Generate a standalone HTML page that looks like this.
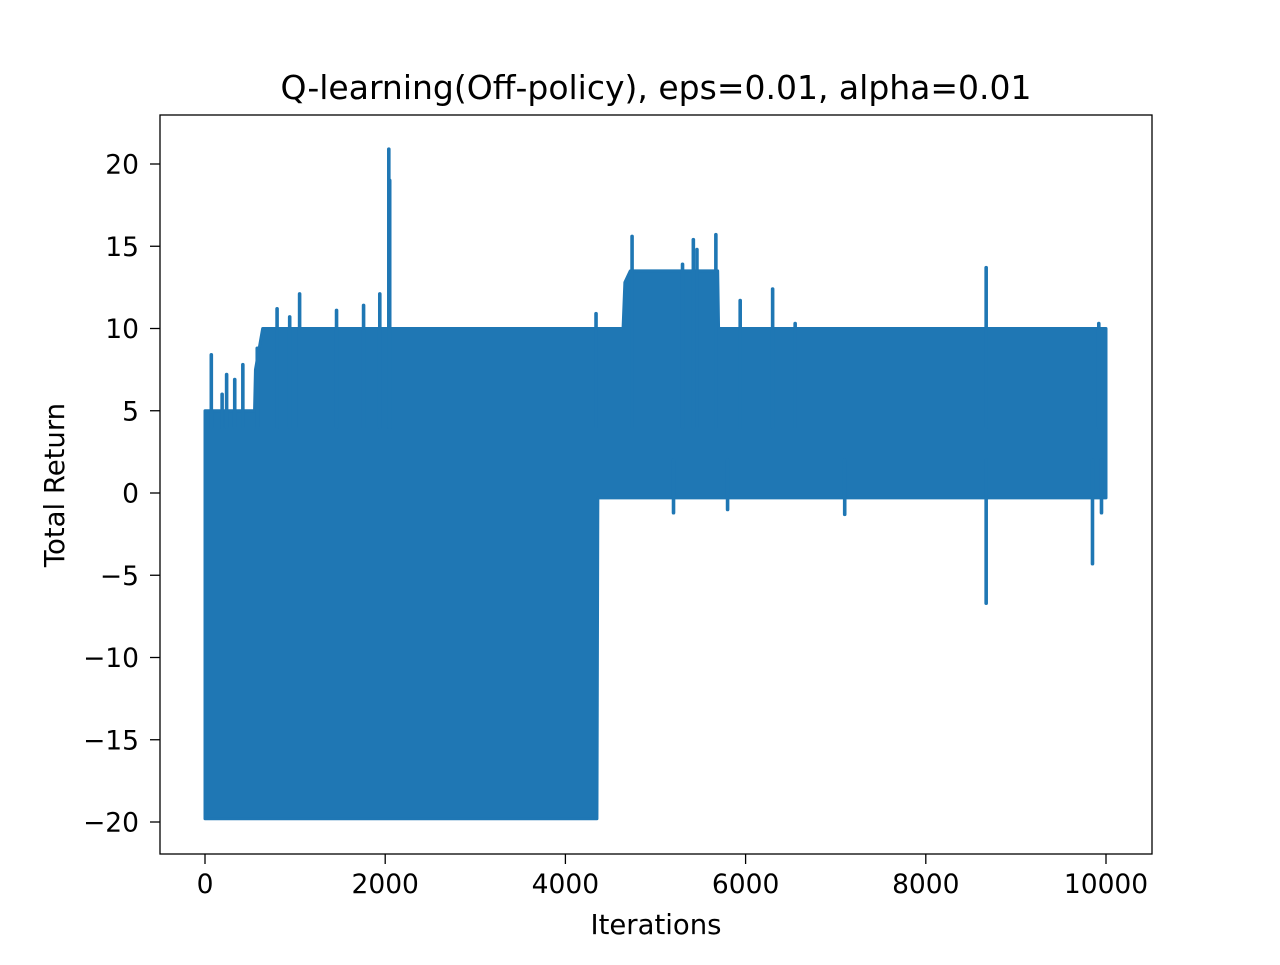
<!DOCTYPE html>
<html><head><meta charset="utf-8"><style>
html,body{margin:0;padding:0;background:#fff}
svg text{font-family:"DejaVu Sans","Liberation Sans",sans-serif;fill:#000}
</style></head><body>
<svg id="chart" width="1280" height="960" xmlns="http://www.w3.org/2000/svg">
<rect width="1280" height="960" fill="#fff"/>
<text x="656" y="99" font-size="33" text-anchor="middle">Q-learning(Off-policy), eps=0.01, alpha=0.01</text>
<g id="marks"></g>
<rect x="160" y="115" width="992" height="739" fill="none" stroke="#000" stroke-width="1.3"/>
<g id="axes"></g>
<text x="656" y="934" font-size="27.5" text-anchor="middle">Iterations</text>
<text transform="translate(64,485) rotate(-90)" font-size="27.5" text-anchor="middle">Total Return</text>
</svg>
<script>
const topIter=[0,550,560,640,4640,4660,4720,5690,5700,10000];
const topVal=[5,5,7.5,10,10,12.8,13.5,13.5,10,10];
const botIter=[0,4350,4360,10000];
const botVal=[-19.8,-19.8,-0.3,-0.3];
const upIter=[70,190,240,330,420,580,800,940,1050,1460,1760,1940,2040,2050,4340,4740,5300,5420,5460,5670,5940,6300,6550,8670,9920];
const upVal=[8.4,6,7.2,6.9,7.8,8.8,11.2,10.7,12.1,11.1,11.4,12.1,20.9,19,10.9,15.6,13.9,15.4,14.8,15.7,11.7,12.4,10.3,13.7,10.3];
const downIter=[5200,5800,7100,8670,9850,9950];
const downVal=[-1.2,-1,-1.3,-6.7,-4.3,-1.2];
const xTicks=[0,2000,4000,6000,8000,10000];
const yTicks=[-20,-15,-10,-5,0,5,10,15,20];
const xs=v=>205+v*(1106-205)/10000;
const ys=v=>493-v*(822-164)/40;
const NS='http://www.w3.org/2000/svg';
const marks=document.getElementById('marks');
const axes=document.getElementById('axes');
const C='#1f77b4';
let pts=[];
for(let i=0;i<topIter.length;i++)pts.push(xs(topIter[i])+','+ys(topVal[i]));
for(let i=botIter.length-1;i>=0;i--)pts.push(xs(botIter[i])+','+ys(botVal[i]));
const area=document.createElementNS(NS,'polygon');


area.setAttribute('points',pts.join(' '));
area.setAttribute('fill',C);area.setAttribute('stroke',C);area.setAttribute('stroke-width','3');area.setAttribute('stroke-linejoin','round');
marks.appendChild(area);
function spike(it,v,base,name){
  const l=document.createElementNS(NS,'line');
  
  
  l.setAttribute('x1',xs(it));l.setAttribute('x2',xs(it));
  l.setAttribute('y1',ys(base));l.setAttribute('y2',ys(v));
  l.setAttribute('stroke',C);l.setAttribute('stroke-width','3.6');l.setAttribute('stroke-linecap','round');
  marks.appendChild(l);
}
for(let i=0;i<upIter.length;i++)spike(upIter[i],upVal[i],4,'spike-up');
for(let i=0;i<downIter.length;i++)spike(downIter[i],downVal[i],2,'spike-down');
xTicks.forEach(t=>{
  const x=xs(t);
  const l=document.createElementNS(NS,'line');
  
  
  l.setAttribute('x1',x);l.setAttribute('x2',x);l.setAttribute('y1',854);l.setAttribute('y2',864);l.setAttribute('stroke','#000');l.setAttribute('stroke-width','1.3');
  axes.appendChild(l);
  const tx=document.createElementNS(NS,'text');
  
  
  tx.setAttribute('x',x);tx.setAttribute('y',893);tx.setAttribute('font-size','26.5');tx.setAttribute('text-anchor','middle');
  tx.textContent=String(t);axes.appendChild(tx);
});
yTicks.forEach(t=>{
  const y=ys(t);
  const l=document.createElementNS(NS,'line');
  
  
  l.setAttribute('x1',150);l.setAttribute('x2',160);l.setAttribute('y1',y);l.setAttribute('y2',y);l.setAttribute('stroke','#000');l.setAttribute('stroke-width','1.3');
  axes.appendChild(l);
  const tx=document.createElementNS(NS,'text');
  
  
  tx.setAttribute('x',139);tx.setAttribute('y',y+9.5);tx.setAttribute('font-size','26.5');tx.setAttribute('text-anchor','end');
  tx.textContent=(t<0?'\u2212'+(-t):String(t));axes.appendChild(tx);
});
</script>
</body></html>
